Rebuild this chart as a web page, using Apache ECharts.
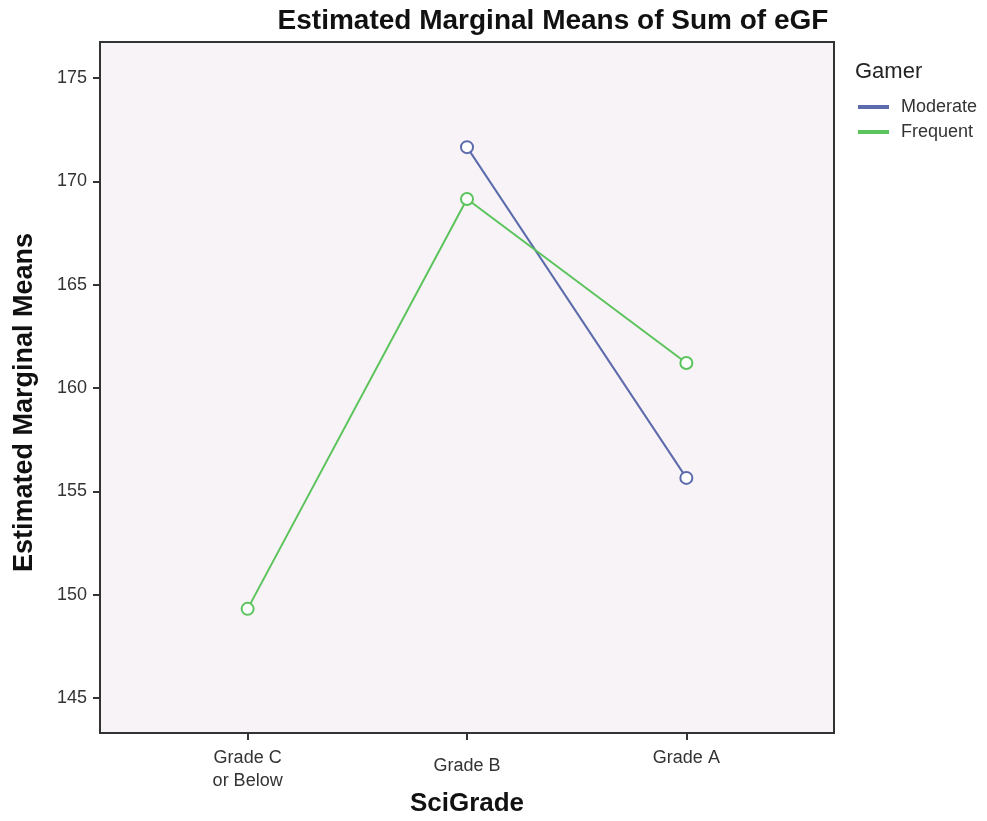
<!DOCTYPE html>
<html>
<head>
<meta charset="utf-8">
<script src="https://cdn.jsdelivr.net/npm/echarts@6/dist/echarts.min.js"></script>
<style>html,body{margin:0;padding:0;background:#fff;}#c{width:987px;height:821px;}</style>
</head>
<body>
<div id="c"></div>
<script>
var categories = ['Grade C\nor Below', 'Grade B', 'Grade A'];
var moderate = [null, 171.66, 155.65];
var frequent = [149.31, 169.15, 161.21];
var yTicks = [145, 150, 155, 160, 165, 170, 175];
var seriesNames = ['Moderate', 'Frequent'];

function pairs(arr) {
  var out = [];
  arr.forEach(function (v, i) { if (v !== null) out.push([i, v]); });
  return out;
}

var chart = echarts.init(document.getElementById('c'));
var font = 'Liberation Sans, Arial, sans-serif';
chart.setOption({
  animation: false,
  backgroundColor: '#ffffff',
  title: [{
    text: 'Estimated Marginal Means of Sum of eGF',
    left: 548, top: 2, textAlign: 'center',
    textStyle: { fontFamily: font, fontSize: 28, fontWeight: 'bold', color: '#111' }
  }, {
    text: 'Gamer', left: 850, top: 56,
    textStyle: { fontFamily: font, fontSize: 22, fontWeight: 'normal', color: '#222' }
  }],
  legend: {
    orient: 'vertical', left: 853, top: 93, itemGap: 7,
    icon: 'rect', itemWidth: 29, itemHeight: 2,
    data: seriesNames,
    textStyle: { fontFamily: font, fontSize: 18, color: '#333', padding: [0, 0, 0, 8] }
  },
  grid: {
    left: 100, right: 153, top: 42, bottom: 88,
    outerBoundsMode: 'none',
    show: true, backgroundColor: '#f8f3f7', borderColor: '#333', borderWidth: 2
  },
  xAxis: {
    type: 'value', min: -0.673, max: 2.673,
    name: 'SciGrade', nameLocation: 'middle', nameGap: 58, nameMoveOverlap: false,
    nameTextStyle: { fontFamily: font, fontSize: 26, fontWeight: 'bold', color: '#111' },
    axisLine: { show: true, onZero: false, lineStyle: { color: '#333', width: 2 } },
    axisTick: { show: true, customValues: [0, 1, 2], length: 7, lineStyle: { color: '#333', width: 2 } },
    splitLine: { show: false },
    axisLabel: {
      customValues: [0, 1, 2], margin: 14,
      fontFamily: font, fontSize: 18, color: '#333', lineHeight: 23,
      formatter: function (v) {
        var i = Math.round(v);
        if (i === 1) return '{b|' + categories[i] + '}';
        return categories[i];
      },
      rich: { b: { fontFamily: font, fontSize: 18, color: '#333', lineHeight: 23, padding: [16, 0, 0, 0] } }
    }
  },
  yAxis: {
    type: 'value', min: 143.3, max: 176.75,
    name: 'Estimated Marginal Means', nameLocation: 'middle', nameGap: 62,
    nameTextStyle: { fontFamily: font, fontSize: 27, fontWeight: 'bold', color: '#111', padding: [0, 30, 0, 0] },
    axisLine: { show: true, onZero: false, lineStyle: { color: '#333', width: 2 } },
    axisTick: { show: true, customValues: yTicks, length: 7, lineStyle: { color: '#333', width: 2 } },
    splitLine: { show: false },
    axisLabel: { customValues: yTicks, margin: 13, fontFamily: font, fontSize: 18, color: '#333' }
  },
  series: [{
    name: seriesNames[0], type: 'line', data: pairs(moderate),
    symbol: 'emptyCircle', symbolSize: 12,
    lineStyle: { color: '#5b6bab', width: 2 },
    itemStyle: { color: '#5b6bab', borderColor: '#5b6bab', borderWidth: 2 }
  }, {
    name: seriesNames[1], type: 'line', data: pairs(frequent),
    symbol: 'emptyCircle', symbolSize: 12,
    lineStyle: { color: '#5cc45c', width: 2 },
    itemStyle: { color: '#5cc45c', borderColor: '#5cc45c', borderWidth: 2 }
  }]
});
</script>
</body>
</html>
